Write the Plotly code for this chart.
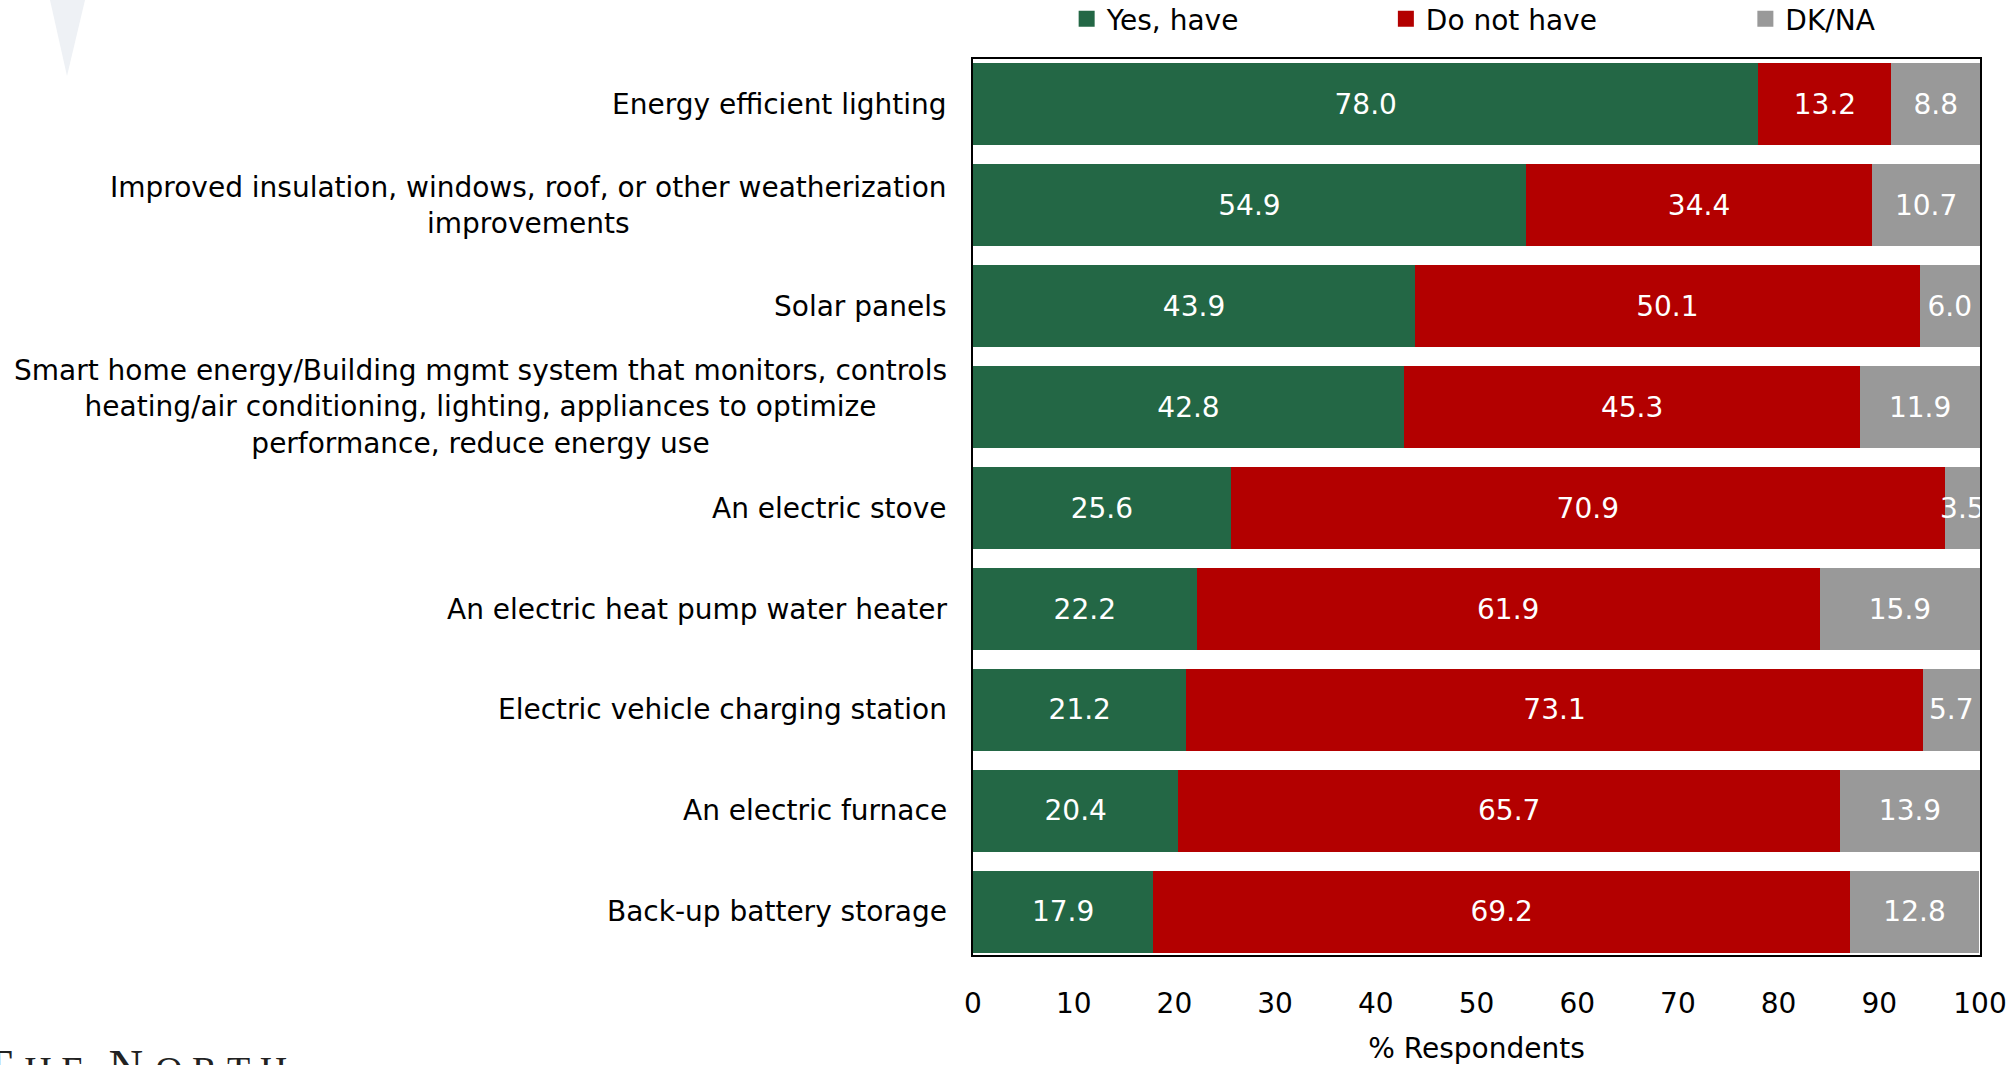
import plotly.graph_objects as go

# Survey items, top to bottom
categories = [
    "Energy efficient lighting",
    "Improved insulation, windows, roof, or other weatherization<br>improvements",
    "Solar panels",
    "Smart home energy/Building mgmt system that monitors, controls<br>heating/air conditioning, lighting, appliances to optimize<br>performance, reduce energy use",
    "An electric stove",
    "An electric heat pump water heater",
    "Electric vehicle charging station",
    "An electric furnace",
    "Back-up battery storage",
]

yes_have = [78.0, 54.9, 43.9, 42.8, 25.6, 22.2, 21.2, 20.4, 17.9]
do_not_have = [13.2, 34.4, 50.1, 45.3, 70.9, 61.9, 73.1, 65.7, 69.2]
dk_na = [8.8, 10.7, 6.0, 11.9, 3.5, 15.9, 5.7, 13.9, 12.8]

series_names = ["Yes, have", "Do not have", "DK/NA"]
series_values = [yes_have, do_not_have, dk_na]
series_colors = ["#236745", "#b30000", "#999999"]

x_ticks = [0, 10, 20, 30, 40, 50, 60, 70, 80, 90, 100]
x_title = "% Respondents"

FONT = "DejaVu Sans, sans-serif"
FS = 28

fig = go.Figure()

for name, vals, color in zip(series_names, series_values, series_colors):
    fig.add_trace(go.Bar(
        y=categories,
        x=vals,
        name=name,
        orientation="h",
        marker=dict(color=color, line=dict(width=0)),
        text=[f"{v:.1f}" for v in vals],
        textposition="inside",
        insidetextanchor="middle",
        textangle=0,
        constraintext="none",
        textfont=dict(color="white", size=FS, family=FONT),
        showlegend=False,
        hoverinfo="skip",
    ))

# Legend entries as square markers, one legend per series
legend_keys = ["legend", "legend2", "legend3"]
legend_x = [0.093, 0.410, 0.767]
for name, color, lk in zip(series_names, series_colors, legend_keys):
    fig.add_trace(go.Scatter(
        x=[None], y=[None],
        mode="markers",
        name=name,
        marker=dict(symbol="square", size=16, color=color),
        legend=lk,
        showlegend=True,
    ))

# Category labels, centred line by line
for cat in categories:
    fig.add_annotation(
        x=-0.0240, xref="paper", y=cat, yref="y",
        xanchor="right", yanchor="middle",
        text=cat, align="center", showarrow=False,
        font=dict(size=FS, family=FONT, color="black"),
    )

# Faint logo marks
fig.add_shape(
    type="path", xref="paper", yref="paper",
    path="M -0.9166,1.0658 L -0.8818,1.0658 L -0.8997,0.9810 Z",
    fillcolor="#eef1f5", line=dict(width=0), layer="below",
)
NB = "\u00a0"
small = lambda s: f"<span style='font-size:38px'>{s}</span>"
logo_text = ("T" + NB + small(NB.join("HE")) + NB + NB + "N" + NB
             + small(NB.join("ORTH")))
fig.add_annotation(
    x=-0.985, xref="paper", y=-0.0925, yref="paper",
    xanchor="left", yanchor="top", showarrow=False,
    text=logo_text,
    font=dict(size=48, family="Liberation Serif, serif", color="#222222"),
)

legend_common = dict(
    orientation="h", yanchor="middle", y=1.0446, xanchor="left",
    bgcolor="rgba(0,0,0,0)", borderwidth=0,
    font=dict(size=FS, family=FONT, color="black"),
    itemwidth=30, tracegroupgap=0,
)

fig.update_layout(
    width=2008, height=1065,
    margin=dict(l=973, r=28, t=59, b=110, autoexpand=False),
    paper_bgcolor="white", plot_bgcolor="white",
    barmode="stack", bargap=0.18,
    font=dict(family=FONT, size=FS, color="black"),
    legend=dict(x=legend_x[0], **legend_common),
    legend2=dict(x=legend_x[1], **legend_common),
    legend3=dict(x=legend_x[2], **legend_common),
    xaxis=dict(
        range=[0, 100], tickvals=x_ticks, ticks="", showgrid=False,
        zeroline=False, showline=True, linecolor="black", linewidth=2,
        mirror=True, ticklabelstandoff=22,
        tickfont=dict(size=FS, family=FONT, color="black"),
        title=dict(text=x_title, standoff=21,
                   font=dict(size=FS, family=FONT, color="black")),
        fixedrange=True,
    ),
    yaxis=dict(
        categoryorder="array", categoryarray=categories,
        range=[8.426, -0.446], showticklabels=False, ticks="",
        showgrid=False, zeroline=False, showline=True, linecolor="black",
        linewidth=2, mirror=True, fixedrange=True,
    ),
)

fig.write_html("out.html")
